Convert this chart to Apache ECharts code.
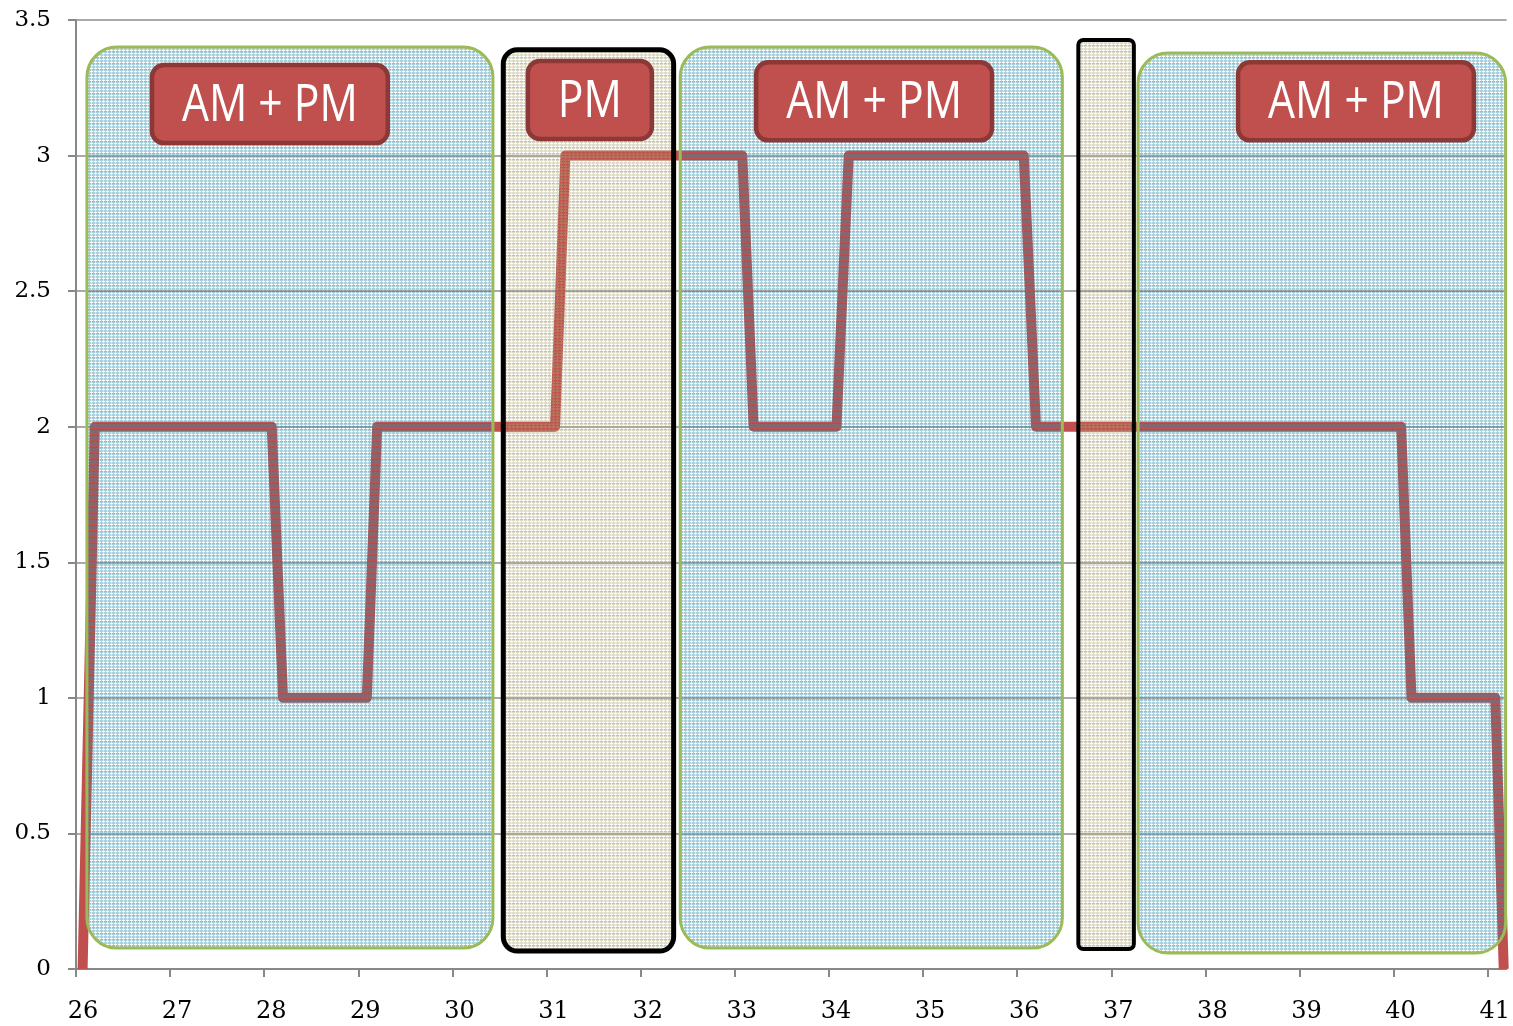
<!DOCTYPE html>
<html>
<head>
<meta charset="utf-8">
<script src="https://cdn.jsdelivr.net/npm/echarts@6/dist/echarts.min.js"></script>
<style>
html,body{margin:0;padding:0;background:#fff;overflow:hidden;}
#chart{width:1513px;height:1026px;}
</style>
</head>
<body>
<div id="chart"></div>
<script>
// ---- data ----
const xTicks = [26,27,28,29,30,31,32,33,34,35,36,37,38,39,40,41];
const lineX = [26.07, 26.2, 28.08, 28.2, 29.09, 29.2, 31.09, 31.2, 33.08, 33.2, 34.08, 34.21, 36.07, 36.2, 40.08, 40.19, 41.08, 41.17];
const lineY = [0, 2, 2, 1, 1, 2, 2, 3, 3, 2, 2, 3, 3, 2, 2, 1, 1, 0];
// shaded periods: start, end (x), top, bottom (y), kind (0 = AM+PM, 1 = PM wide, 2 = PM narrow)
const regionStart  = [26.116, 30.54, 32.42, 36.65, 37.285];
const regionEnd    = [30.43, 32.35, 36.48, 37.24, 41.19];
const regionTop    = [3.40, 3.39, 3.40, 3.426, 3.378];
const regionBottom = [0.077, 0.066, 0.077, 0.074, 0.059];
const regionKind   = [0, 1, 0, 2, 0];
const labelText = ['AM + PM', 'PM', 'AM + PM', 'AM + PM'];
const labelX    = [28.06, 31.46, 34.48, 39.60];
const labelY    = [3.19, 3.205, 3.20, 3.20];

// ---- patterns (styles) ----
function makePattern(map, colors){
  const c = document.createElement('canvas');
  c.width = map[0].length; c.height = map.length;
  const ctx = c.getContext('2d');
  for (let y = 0; y < map.length; y++) {
    for (let x = 0; x < map[y].length; x++) {
      const col = colors[map[y][x]];
      if (col) { ctx.fillStyle = col; ctx.fillRect(x, y, 1, 1); }
    }
  }
  return c;
}
const tileMap = ['BBBL','BBBL','TBTT','DDDL','BBBL','TBTT'];
const blueTile = makePattern(tileMap, {
  B:'rgba(40,140,170,0.40)', D:'rgba(30,120,155,0.48)', L:'rgba(40,140,170,0.2)', T:null });
const beigeTile = makePattern(tileMap, {
  B:'rgba(175,165,120,0.40)', D:'rgba(145,135,75,0.5)', L:'rgba(175,165,120,0.22)', T:null });

const regionStyles = [
  {fill:{image:blueTile, repeat:'repeat'}, stroke:'#9BBB59', lw:3, r:30},
  {fill:{image:beigeTile, repeat:'repeat'}, stroke:'#000000', lw:5, r:14},
  {fill:{image:beigeTile, repeat:'repeat'}, stroke:'#000000', lw:4, r:5}
];

const regionData = regionStart.map((s,i)=>[s, regionEnd[i], regionTop[i], regionBottom[i], regionKind[i]]);
const labelData = labelText.map((t,i)=>[labelX[i], labelY[i], i]);
const lineData = lineX.map((x,i)=>[x, lineY[i]]);

const LABEL_FONT = 52, LABEL_SX = 0.82;
const mctx = document.createElement('canvas').getContext('2d');
mctx.font = LABEL_FONT + 'px "Open Sans"';

const chart = echarts.init(document.getElementById('chart'), null, {renderer:'canvas'});
const axisGrey = '#888888';
chart.setOption({
  animation:false,
  backgroundColor:'#ffffff',
  grid:{left:76, right:0, top:20, bottom:57, containLabel:false},
  xAxis:{
    type:'value', min:26, max:41.2,
    axisLine:{show:true, lineStyle:{color:axisGrey, width:2}},
    axisTick:{show:true, inside:false, length:8, customValues:xTicks, lineStyle:{color:axisGrey, width:2}},
    axisLabel:{customValues:xTicks, margin:31, color:'#000', fontFamily:'DejaVu Serif', fontSize:24, padding:[0,0,0,14],
      formatter:v=>String(v)},
    splitLine:{show:false}
  },
  yAxis:{
    type:'value', min:0, max:3.5, interval:0.5,
    axisLine:{show:true, lineStyle:{color:axisGrey, width:2}},
    axisTick:{show:true, inside:false, length:8, lineStyle:{color:axisGrey, width:2}},
    axisLabel:{margin:25, color:'#000', fontFamily:'DejaVu Serif', fontSize:23},
    splitLine:{show:true, lineStyle:{color:'#8c8c8c', width:1.5}}
  },
  series:[
    {
      type:'line', data:lineData, symbol:'none', z:2,
      lineStyle:{color:'#C0504D', width:10, join:'round', cap:'butt'}
    },
    {
      type:'custom', z:3, data:regionData,
      encode:{x:[0,1], y:[2,3]},
      renderItem:(params, api)=>{
        const p0 = api.coord([api.value(0), api.value(2)]);
        const p1 = api.coord([api.value(1), api.value(3)]);
        const st = regionStyles[api.value(4)];
        return {type:'rect', shape:{x:p0[0], y:p0[1], width:p1[0]-p0[0], height:p1[1]-p0[1], r:st.r},
          style:{fill:st.fill, stroke:st.stroke, lineWidth:st.lw}};
      }
    },
    {
      type:'custom', z:4, data:labelData,
      encode:{x:0, y:1},
      renderItem:(params, api)=>{
        const c = api.coord([api.value(0), api.value(1)]);
        const txt = labelText[api.value(2)];
        const w = mctx.measureText(txt).width * LABEL_SX + 60;
        const h = 78;
        return {type:'group', children:[
          {type:'rect', shape:{x:c[0]-w/2, y:c[1]-h/2, width:w, height:h, r:12},
            style:{fill:'#C0504D', stroke:'#8C3836', lineWidth:4.5}},
          {type:'text', x:c[0], y:c[1]+2, scaleX:LABEL_SX,
            style:{text:txt, fill:'#ffffff', fontFamily:'Open Sans', fontSize:LABEL_FONT, align:'center', verticalAlign:'middle'}}
        ]};
      }
    }
  ]
});
</script>
</body>
</html>
